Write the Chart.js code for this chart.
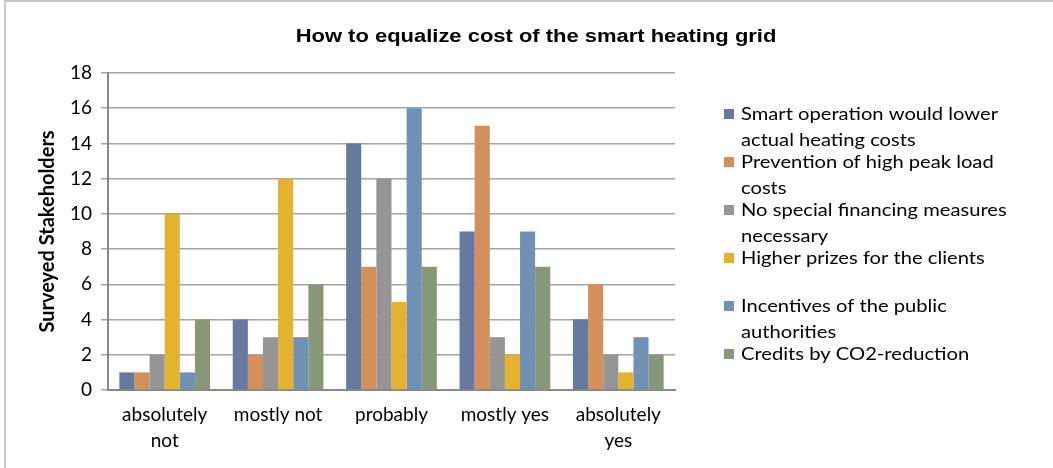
<!DOCTYPE html>
<html>
<head>
<meta charset="utf-8">
<script src="https://cdn.jsdelivr.net/npm/chart.js@4/dist/chart.umd.min.js"></script>
<style>
  html, body { margin: 0; padding: 0; background: #fff; }
  #wrap { position: relative; width: 1053px; height: 468px; box-sizing: border-box;
          border-top: 2px solid #c8c8c8; border-left: 2px solid #c8c8c8; margin-left: 4px; }
  canvas { position: absolute; left: -6px; top: -2px; }
</style>
</head>
<body>
<div id="wrap"><canvas id="costChart" width="1053" height="468"></canvas></div>
<script>
// Daten
const chartTitle = 'How to equalize cost of the smart heating grid';
const categories = [['absolutely', 'not'], 'mostly not', 'probably', 'mostly yes', ['absolutely', 'yes']];
const seriesNames = [
    ['Smart operation would lower', 'actual heating costs'],
    ['Prevention of high peak load', 'costs'],
    ['No special financing measures', 'necessary'],
    ['Higher prizes for the clients'],
    ['Incentives of the public', 'authorities'],
    ['Credits by CO2-reduction']
];
const smartOperation = [1, 4, 14, 9, 4];
const peakLoad = [1, 2, 7, 15, 6];
const noFinancing = [2, 3, 12, 3, 2];
const higherPrizes = [10, 12, 5, 2, 1];
const incentives = [1, 3, 16, 9, 3];
const co2Credits = [4, 6, 7, 7, 2];
const seriesColors = ['#667aa0', '#d4905a', '#959595', '#e3b22e', '#7191b4', '#869879'];

const allSeries = [smartOperation, peakLoad, noFinancing, higherPrizes, incentives, co2Credits];

// Titel oben mittig + Legende rechts, selbst gezeichnet (Original ist leicht in die Breite gezogen)
const sideDecor = {
    id: 'sideDecor',
    afterDraw(chart) {
        const ctx = chart.ctx;
        ctx.save();
        ctx.fillStyle = '#000';
        ctx.textBaseline = 'middle';
        ctx.textAlign = 'center';
        ctx.font = 'bold 18px "Liberation Sans"';
        ctx.translate(536, 37);
        ctx.scale(1.22, 1);
        ctx.fillText(chartTitle, 0, 0);
        ctx.restore();

        ctx.save();
        ctx.textBaseline = 'middle';
        ctx.textAlign = 'left';
        ctx.font = '18px Lato';
        chart.data.datasets.forEach((ds, i) => {
            const y = 114 + i * 48;
            ctx.fillStyle = ds.backgroundColor;
            ctx.fillRect(724, y - 5, 10, 10);
            ctx.fillStyle = '#000';
            ds.label.forEach((line, j) => {
                ctx.save();
                ctx.translate(741, y + j * 26);
                ctx.scale(1.12, 1);
                ctx.fillText(line, 0, 0);
                ctx.restore();
            });
        });
        ctx.restore();
    }
};

const ctx = document.getElementById('costChart').getContext('2d');
new Chart(ctx, {
    type: 'bar',
    data: {
        labels: categories,
        datasets: allSeries.map((vals, i) => ({
            label: seriesNames[i],
            data: vals,
            backgroundColor: seriesColors[i],
            borderWidth: 0
        }))
    },
    options: {
        responsive: false,
        animation: false,
        categoryPercentage: 0.8,
        barPercentage: 1.0,
        layout: { padding: { left: 6, right: 378, top: 73, bottom: 0 } },
        plugins: {
            legend: { display: false },
            tooltip: { enabled: false },
            title: { display: false }
        },
        scales: {
            x: {
                grid: { display: false },
                border: { display: true, color: '#888', width: 2 },
                ticks: {
                    color: '#000',
                    font: { family: 'Lato', size: 19, lineHeight: 1.37 },
                    padding: 4,
                    maxRotation: 0
                },
                afterFit(scale) { scale.height = 78; }
            },
            y: {
                min: 0,
                max: 18,
                ticks: {
                    stepSize: 2,
                    color: '#000',
                    font: { family: 'Lato', size: 19 },
                    padding: 9
                },
                grid: { color: '#a4a4a4', lineWidth: 1.5, tickLength: 7 },
                border: { display: true, color: '#888', width: 2 },
                title: {
                    display: true,
                    text: 'Surveyed Stakeholders',
                    color: '#000',
                    font: { family: 'Lato', size: 20, weight: 'bold' },
                    padding: { top: 30, bottom: 0 }
                },
                afterFit(scale) { scale.width = 102; }
            }
        }
    },
    plugins: [sideDecor]
});
</script>
</body>
</html>
